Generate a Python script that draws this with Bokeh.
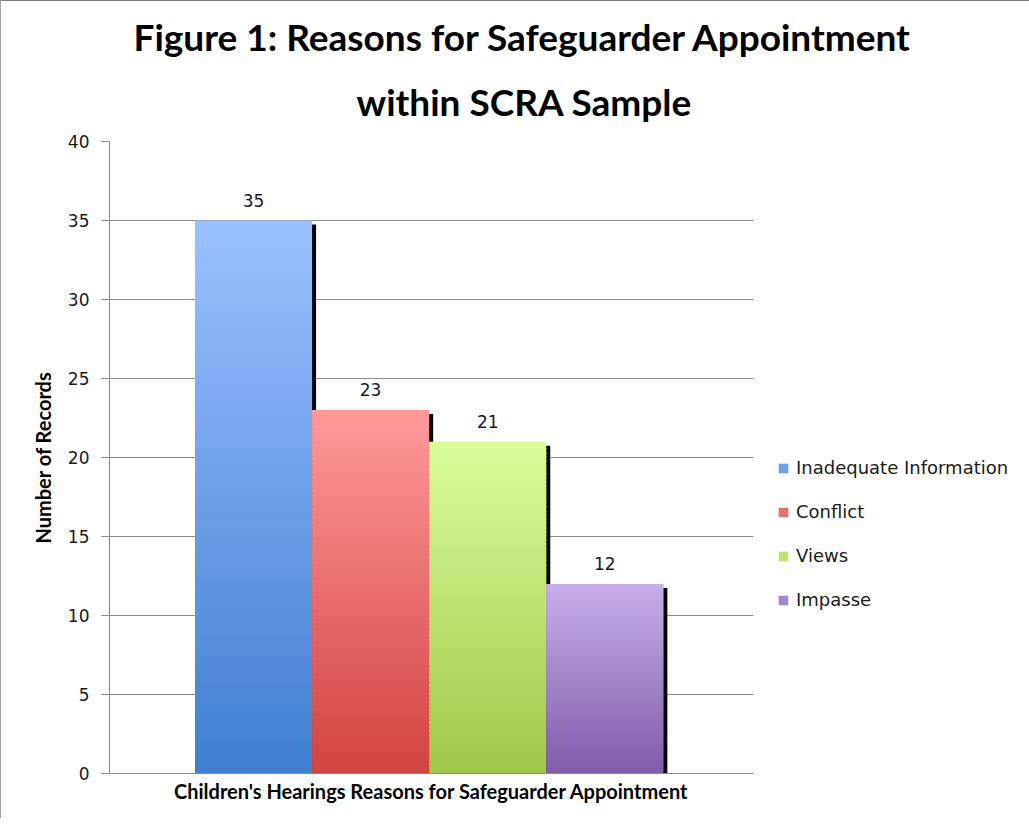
from bokeh.plotting import figure
from bokeh.models import ColumnDataSource, Legend, LegendItem, LabelSet, FixedTicker, Title
from bokeh.core.properties import value
from bokeh.embed import file_html
from bokeh.resources import INLINE

categories = ["Inadequate Information", "Conflict", "Views", "Impasse"]
counts = [35, 23, 21, 12]
top_colors = ["#9BC1FF", "#FF9A99", "#DAFE9B", "#C7AFEA"]
bottom_colors = ["#3F7ED0", "#D14340", "#9EC94A", "#7F5CA9"]
y_ticks = [0, 5, 10, 15, 20, 25, 30, 35, 40]
title_line1 = "Figure 1: Reasons for Safeguarder Appointment"
title_line2 = "within SCRA Sample"
x_label = "Children's Hearings Reasons for Safeguarder Appointment"
y_label = "Number of Records"

n = len(categories)
positions = [i - (n - 1) / 2 for i in range(n)]


def hex_to_rgb(h):
    h = h.lstrip("#")
    return tuple(int(h[i:i + 2], 16) for i in (0, 2, 4))


def mix(c1, c2, t):
    a, b = hex_to_rgb(c1), hex_to_rgb(c2)
    return "#%02x%02x%02x" % tuple(round(a[k] + (b[k] - a[k]) * t) for k in range(3))


p = figure(frame_width=644, frame_height=632, x_range=(-2.73, 2.77), y_range=(0, 40),
           output_backend="svg", toolbar_location=None, title=None,
           min_border_left=108, min_border_right=261,
           min_border_top=140, min_border_bottom=45)
p.styles = {"border-top": "1px solid #7f7f7f", "border-left": "1px solid #a6a6a6"}

for txt, so, off in ((title_line2, 36, 247), (title_line1, 0, 24)):
    p.add_layout(Title(text=txt, text_font="Lato", text_font_size="37px",
                       text_font_style="bold", text_color="black",
                       align="left", offset=off, standoff=so), "above")

p.outline_line_color = None
p.background_fill_color = "white"
p.xgrid.grid_line_color = None
p.ygrid.grid_line_color = "#8c8c8c"
p.ygrid.ticker = FixedTicker(ticks=y_ticks)

p.yaxis.ticker = FixedTicker(ticks=y_ticks)
p.yaxis.axis_line_color = "#8c8c8c"
p.yaxis.major_tick_line_color = "#8c8c8c"
p.yaxis.major_tick_out = 8
p.yaxis.major_tick_in = 0
p.yaxis.minor_tick_line_color = None
p.yaxis.major_label_text_font = "DejaVu Sans"
p.yaxis.major_label_text_font_size = "17px"
p.yaxis.major_label_text_color = "#1a1a1a"
p.yaxis.major_label_standoff = 12
p.yaxis.axis_label = y_label
p.yaxis.axis_label_text_font = "Lato"
p.yaxis.axis_label_text_font_style = "bold"
p.yaxis.axis_label_text_font_size = "20px"
p.yaxis.axis_label_text_color = "black"
p.yaxis.axis_label_standoff = 10

p.xaxis.ticker = FixedTicker(ticks=[])
p.xaxis.axis_line_color = "#8c8c8c"
p.xaxis.major_tick_line_color = None
p.xaxis.minor_tick_line_color = None
p.xaxis.axis_label = x_label
p.xaxis.axis_label_text_font = "Lato"
p.xaxis.axis_label_text_font_style = "bold"
p.xaxis.axis_label_text_font_size = "20px"
p.xaxis.axis_label_text_color = "black"
p.xaxis.axis_label_standoff = 5

# shadows (offset a few pixels right and down)
px_x = 1.0 / 117.0
px_y = 40.0 / 632.0
shadow_src = ColumnDataSource(dict(
    x=[pos + 4 * px_x for pos in positions],
    top=[c - 4 * px_y for c in counts]))
p.vbar(x="x", top="top", bottom=0, width=1.0, source=shadow_src,
       fill_color="black", line_color=None)

# gradient bars built from overlapping slices of each bar's value
N = 80
items = []
for i in range(n):
    xs, tops, bots, cols = [], [], [], []
    for k in range(N):
        xs.append(positions[i])
        bots.append(counts[i] * k / N)
        tops.append(min(counts[i], counts[i] * (k + 1) / N + 0.15))
        cols.append(mix(bottom_colors[i], top_colors[i], (k + 0.5) / N))
    src = ColumnDataSource(dict(x=xs, top=tops, bottom=bots, c=cols))
    r = p.vbar(x="x", top="top", bottom="bottom", width=1.0, source=src,
               fill_color="c", line_color=None)
    items.append(LegendItem(label=categories[i], renderers=[r], index=N // 2))

label_src = ColumnDataSource(dict(x=positions, y=counts, t=[str(c) for c in counts]))
p.add_layout(LabelSet(x="x", y="y", text="t", source=label_src,
                      text_align="center", text_baseline="bottom", y_offset=14,
                      text_font=value("DejaVu Sans"), text_font_size="17px",
                      text_color="#1a1a1a"))

legend = Legend(items=items, location=(24, 163), orientation="vertical",
                label_text_font="DejaVu Sans", label_text_font_size="18px",
                label_text_color="#1a1a1a", glyph_width=12, glyph_height=12,
                label_height=20, spacing=23, label_standoff=7, padding=0,
                margin=0, border_line_color=None, background_fill_alpha=0)
p.add_layout(legend, "right")

open("out.html", "w").write(file_html(p, INLINE))
